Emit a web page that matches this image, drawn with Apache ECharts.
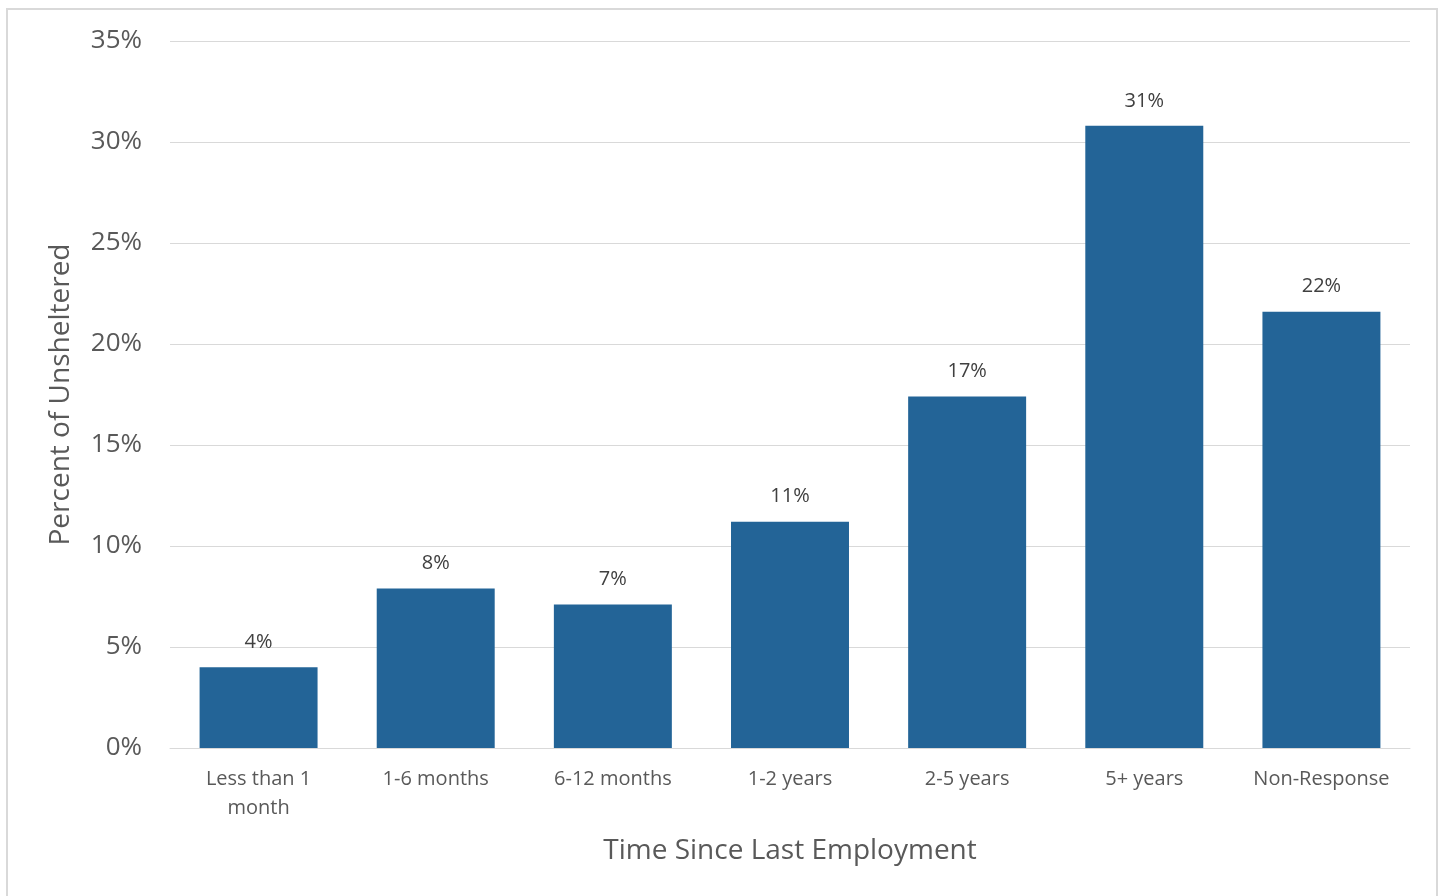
<!DOCTYPE html>
<html>
<head>
<meta charset="utf-8">
<script src="https://cdn.jsdelivr.net/npm/echarts@6/dist/echarts.min.js"></script>
<style>
html,body{margin:0;padding:0;background:#fff;}
#chart{width:1442px;height:896px;}
</style>
</head>
<body>
<div id="chart"></div>
<script>
const categories = ['Less than 1\nmonth', '1-6 months', '6-12 months', '1-2 years', '2-5 years', '5+ years', 'Non-Response'];
const values = [4.0, 7.9, 7.1, 11.2, 17.4, 30.8, 21.6];
const yTicks = { min: 0, max: 35, interval: 5 };

const chart = echarts.init(document.getElementById('chart'));
const font = 'Open Sans';
chart.setOption({
  animation: false,
  backgroundColor: '#fff',
  graphic: [{
    type: 'rect',
    shape: { x: 7, y: 9, width: 1430, height: 900 },
    style: { fill: 'none', stroke: '#d9d9d9', lineWidth: 2 },
    silent: true
  }],
  grid: { left: 170, right: 32, top: 41, bottom: 148 },
  xAxis: {
    type: 'category',
    data: categories,
    name: 'Time Since Last Employment',
    nameLocation: 'middle',
    nameGap: 89,
    nameTextStyle: { fontFamily: font, fontSize: 28, color: '#595959' },
    axisLine: { show: true, lineStyle: { color: '#d9d9d9', width: 1 } },
    axisTick: { show: false },
    axisLabel: { fontFamily: font, fontSize: 20, color: '#595959', lineHeight: 29, margin: 17, interval: 0 }
  },
  yAxis: {
    type: 'value',
    min: yTicks.min, max: yTicks.max, interval: yTicks.interval,
    name: 'Percent of Unsheltered',
    nameLocation: 'middle',
    nameGap: 95,
    nameTextStyle: { fontFamily: font, fontSize: 28, color: '#595959' },
    axisLine: { show: false },
    axisTick: { show: false },
    splitLine: { lineStyle: { color: '#d9d9d9', width: 1 } },
    axisLabel: { fontFamily: font, fontSize: 26, color: '#595959', margin: 28, formatter: v => v + '%' }
  },
  series: [{
    type: 'bar',
    data: values,
    barCategoryGap: '33.4%',
    itemStyle: { color: '#236497' },
    label: {
      show: true, position: 'top', distance: 15,
      fontFamily: font, fontSize: 20, color: '#404040',
      formatter: p => Math.round(p.value) + '%'
    }
  }]
});
</script>
</body>
</html>
